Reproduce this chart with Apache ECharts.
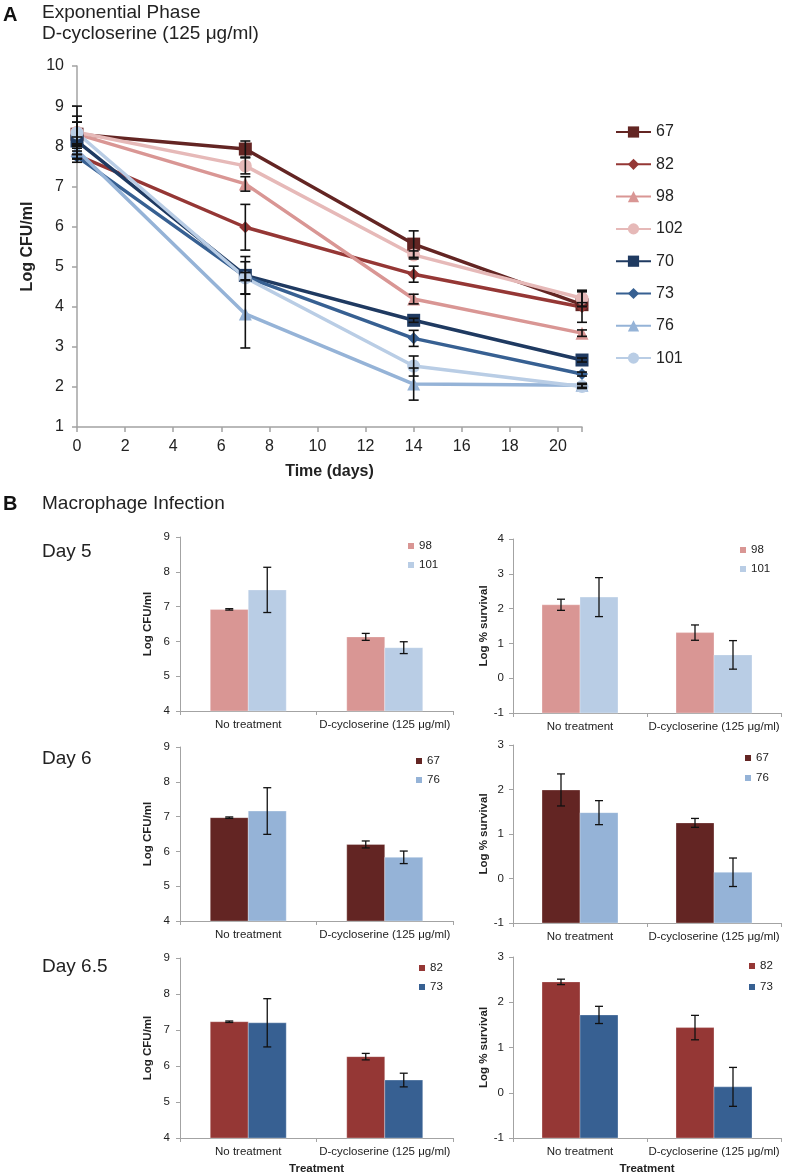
<!DOCTYPE html>
<html>
<head>
<meta charset="utf-8">
<script src="https://cdn.jsdelivr.net/npm/echarts@6/dist/echarts.min.js"></script>
<style>
  html, body { margin: 0; background: #fff; }
  #chart { width: 787px; height: 1176px; }
</style>
</head>
<body>
<div id="chart"></div>
<script>
const FONT = '"Liberation Sans", Arial, Helvetica, sans-serif'

// Panel A: exponential phase, log CFU/ml over time
const days = [0, 7, 14, 21]
const strains = ['67', '82', '98', '102', '70', '73', '76', '101']
const cfu67 = [8.3, 7.93, 5.56, 4.05]
const cfu82 = [7.78, 5.98, 4.81, 3.99]
const cfu98 = [8.3, 7.06, 4.19, 3.34]
const cfu102 = [8.35, 7.51, 5.29, 4.21]
const cfu70 = [8.13, 4.78, 3.66, 2.67]
const cfu73 = [7.74, 4.75, 3.21, 2.32]
const cfu76 = [7.9, 3.82, 2.07, 2.04]
const cfu101 = [8.33, 4.72, 2.52, 2.01]
const err67 = [0.7, 0.2, 0.33, 0.05]
const err82 = [0.1, 0.57, 0.2, 0.38]
const err98 = [0.3, 0.18, 0.12, 0.08]
const err102 = [0.4, 0.2, 0.1, 0.2]
const err70 = [0.1, 0.47, 0.05, 0.05]
const err73 = [0.05, 0.1, 0.2, 0.05]
const err76 = [0.1, 0.85, 0.4, 0.05]
const err101 = [0.27, 0.4, 0.25, 0.05]

// Panel B: macrophage infection
const treatments = ['No treatment', 'D-cycloserine (125 μg/ml)']
const d5Cfu98 = [6.92, 6.13]
const d5Cfu98Err = [0.02, 0.1]
const d5Cfu101 = [7.48, 5.82]
const d5Cfu101Err = [0.65, 0.17]
const d5Surv98 = [2.11, 1.31]
const d5Surv98Err = [0.16, 0.22]
const d5Surv101 = [2.33, 0.67]
const d5Surv101Err = [0.56, 0.41]
const d6Cfu67 = [6.97, 6.2]
const d6Cfu67Err = [0.02, 0.1]
const d6Cfu76 = [7.16, 5.83]
const d6Cfu76Err = [0.67, 0.18]
const d6Surv67 = [1.99, 1.25]
const d6Surv67Err = [0.36, 0.1]
const d6Surv76 = [1.48, 0.14]
const d6Surv76Err = [0.27, 0.32]
const d65Cfu82 = [7.23, 6.26]
const d65Cfu82Err = [0.02, 0.09]
const d65Cfu73 = [7.2, 5.61]
const d65Cfu73Err = [0.67, 0.19]
const d65Surv82 = [2.45, 1.44]
const d65Surv82Err = [0.06, 0.27]
const d65Surv73 = [1.72, 0.13]
const d65Surv73Err = [0.19, 0.43]

const lineValues = { '67': cfu67, '82': cfu82, '98': cfu98, '102': cfu102, '70': cfu70, '73': cfu73, '76': cfu76, '101': cfu101 }
const lineErrors = { '67': err67, '82': err82, '98': err98, '102': err102, '70': err70, '73': err73, '76': err76, '101': err101 }

const strainColor = {
  '67': '#632523',
  '82': '#953735',
  '98': '#D99694',
  '102': '#E6B9B8',
  '70': '#1F3A61',
  '73': '#376092',
  '76': '#95B3D7',
  '101': '#B9CDE5',
}
const strainSymbol = {
  '67': ['rect', 13],
  '82': ['diamond', 12],
  '98': ['triangle', 13],
  '102': ['circle', 13],
  '70': ['rect', 13],
  '73': ['diamond', 12],
  '76': ['triangle', 13],
  '101': ['circle', 13],
}

const AXIS_GREY = '#A3A3A3'
const BAR_WIDTH = 38

function errorLines(cx, hi, lo, cap, width) {
  const half = cap / 2
  const style = { stroke: '#111', lineWidth: width }
  return [
    { type: 'line', shape: { x1: cx, y1: hi, x2: cx, y2: lo }, style },
    { type: 'line', shape: { x1: cx - half, y1: hi, x2: cx + half, y2: hi }, style },
    { type: 'line', shape: { x1: cx - half, y1: lo, x2: cx + half, y2: lo }, style },
  ]
}

// error bar around [x, value, err]
function errorBarRender(params, api) {
  const x = api.value(0)
  const hi = api.coord([x, api.value(1) + api.value(2)])
  const lo = api.coord([x, api.value(1) - api.value(2)])
  return { type: 'group', children: errorLines(hi[0], hi[1], lo[1], 10, 1.6) }
}

// bar rising from the axis minimum (Excel style), with its error bar
function barRender(offset, axisMin) {
  return function (params, api) {
    const i = api.value(0)
    const v = api.value(1)
    const e = api.value(2)
    const top = api.coord([i, v])
    const base = api.coord([i, axisMin])
    const hi = api.coord([i, v + e])
    const lo = api.coord([i, v - e])
    const cx = top[0] + offset
    return {
      type: 'group',
      children: [
        {
          type: 'rect',
          shape: { x: cx - BAR_WIDTH / 2, y: top[1], width: BAR_WIDTH, height: base[1] - top[1] },
          style: { fill: api.visual('color'), stroke: 'rgba(255,255,255,0.6)', lineWidth: 0.5 },
        },
      ].concat(errorLines(cx, hi[1], lo[1], 8, 1.3)),
    }
  }
}

const panels = [
  { left: 180, top: 537, width: 273, height: 174, min: 4, max: 9, yName: 'Log CFU/ml', nameGap: 26, labelMargin: 10,
    names: ['98', '101'], values: [d5Cfu98, d5Cfu101], errs: [d5Cfu98Err, d5Cfu101Err], legend: [403, 534, 5] },
  { left: 513, top: 539, width: 268, height: 174, min: -1, max: 4, yName: 'Log % survival', nameGap: 17, labelMargin: 9,
    names: ['98', '101'], values: [d5Surv98, d5Surv101], errs: [d5Surv98Err, d5Surv101Err], legend: [735, 538, 5] },
  { left: 180, top: 747, width: 273, height: 174, min: 4, max: 9, yName: 'Log CFU/ml', nameGap: 26, labelMargin: 10,
    names: ['67', '76'], values: [d6Cfu67, d6Cfu76], errs: [d6Cfu67Err, d6Cfu76Err], legend: [411, 749, 5] },
  { left: 513, top: 745, width: 268, height: 178, min: -1, max: 3, yName: 'Log % survival', nameGap: 17, labelMargin: 9,
    names: ['67', '76'], values: [d6Surv67, d6Surv76], errs: [d6Surv67Err, d6Surv76Err], legend: [740, 746, 6] },
  { left: 180, top: 958, width: 273, height: 180, min: 4, max: 9, yName: 'Log CFU/ml', nameGap: 26, labelMargin: 10, treatment: true,
    names: ['82', '73'], values: [d65Cfu82, d65Cfu73], errs: [d65Cfu82Err, d65Cfu73Err], legend: [414, 956, 5] },
  { left: 513, top: 957, width: 268, height: 181, min: -1, max: 3, yName: 'Log % survival', nameGap: 17, labelMargin: 9, treatment: true,
    names: ['82', '73'], values: [d65Surv82, d65Surv73], errs: [d65Surv82Err, d65Surv73Err], legend: [744, 954, 7] },
]

const option = {
  backgroundColor: '#fff',
  animation: false,
  textStyle: { fontFamily: FONT },
  title: [
    { text: 'A', left: 3, top: 5, padding: 0, textStyle: { fontFamily: FONT, fontSize: 20, fontWeight: 'bold', color: '#111' } },
    { text: 'Exponential Phase\nD-cycloserine (125 μg/ml)', left: 42, top: 2, padding: 0,
      textStyle: { fontFamily: FONT, fontSize: 19, fontWeight: 'normal', lineHeight: 21, color: '#222' } },
    { text: 'B', left: 3, top: 494, padding: 0, textStyle: { fontFamily: FONT, fontSize: 20, fontWeight: 'bold', color: '#111' } },
    { text: 'Macrophage Infection', left: 42, top: 494, padding: 0, textStyle: { fontFamily: FONT, fontSize: 19, fontWeight: 'normal', color: '#222' } },
    { text: 'Day 5', left: 42, top: 542, padding: 0, textStyle: { fontFamily: FONT, fontSize: 19, fontWeight: 'normal', color: '#222' } },
    { text: 'Day 6', left: 42, top: 749, padding: 0, textStyle: { fontFamily: FONT, fontSize: 19, fontWeight: 'normal', color: '#222' } },
    { text: 'Day 6.5', left: 42, top: 957, padding: 0, textStyle: { fontFamily: FONT, fontSize: 19, fontWeight: 'normal', color: '#222' } },
  ],
  legend: [
    {
      data: strains,
      orient: 'vertical',
      left: 610,
      top: 119,
      itemWidth: 35,
      itemHeight: 14,
      itemGap: 16.3,
      selectedMode: false,
      textStyle: { fontFamily: FONT, fontSize: 16, lineHeight: 16, color: '#222' },
    },
  ],
  grid: [{ left: 77, top: 66, width: 505, height: 361, outerBoundsMode: 'none' }],
  xAxis: [
    {
      gridIndex: 0,
      type: 'value',
      min: 0,
      max: 21,
      interval: 2,
      name: 'Time (days)',
      nameLocation: 'middle',
      nameGap: 37,
      nameTextStyle: { fontFamily: FONT, fontSize: 16, fontWeight: 'bold', color: '#222' },
      axisLine: { show: true, onZero: false, lineStyle: { color: AXIS_GREY, width: 1.5 } },
      axisTick: { show: true, length: 5, lineStyle: { color: AXIS_GREY, width: 1.5 } },
      axisLabel: { fontSize: 16, color: '#222', margin: 12, formatter: (v) => (v % 2 === 0 ? v : '') },
      splitLine: { show: false },
    },
  ],
  yAxis: [
    {
      gridIndex: 0,
      type: 'value',
      min: 1,
      max: 10,
      interval: 1,
      name: 'Log CFU/ml',
      nameLocation: 'middle',
      nameGap: 31,
      nameTextStyle: { fontFamily: FONT, fontSize: 16, fontWeight: 'bold', color: '#222' },
      axisLine: { show: true, onZero: false, lineStyle: { color: AXIS_GREY, width: 1.5 } },
      axisTick: { show: true, length: 5, lineStyle: { color: AXIS_GREY, width: 1.5 } },
      axisLabel: { fontSize: 16, color: '#222', margin: 13 },
      splitLine: { show: false },
    },
  ],
  series: [],
}

// lines for panel A
strains.forEach((s) => {
  option.series.push({
    name: s,
    type: 'line',
    xAxisIndex: 0,
    yAxisIndex: 0,
    data: days.map((d, i) => [d, lineValues[s][i]]),
    symbol: strainSymbol[s][0],
    symbolSize: strainSymbol[s][1],
    lineStyle: { width: 3.5, color: strainColor[s] },
    itemStyle: { color: strainColor[s] },
    z: 2,
  })
})

const lineErrData = []
strains.forEach((s) => {
  days.forEach((d, i) => {
    lineErrData.push([d, lineValues[s][i], lineErrors[s][i]])
  })
})
option.series.push({
  type: 'custom',
  xAxisIndex: 0,
  yAxisIndex: 0,
  data: lineErrData,
  renderItem: errorBarRender,
  silent: true,
  z: 3,
})

// bar panels for B
panels.forEach((p, k) => {
  const idx = k + 1
  option.grid.push({ left: p.left, top: p.top, width: p.width, height: p.height, outerBoundsMode: 'none' })
  option.xAxis.push({
    gridIndex: idx,
    type: 'category',
    data: treatments,
    name: p.treatment ? 'Treatment' : '',
    nameLocation: 'middle',
    nameGap: 25,
    nameTextStyle: { fontFamily: FONT, fontSize: 11.5, fontWeight: 'bold', color: '#222' },
    axisLine: { show: true, onZero: false, lineStyle: { color: AXIS_GREY } },
    axisTick: { show: true, length: 4, lineStyle: { color: AXIS_GREY } },
    axisLabel: { fontSize: 11.5, color: '#222', margin: 8, interval: 0 },
  })
  option.yAxis.push({
    gridIndex: idx,
    type: 'value',
    min: p.min,
    max: p.max,
    interval: 1,
    name: p.yName,
    nameLocation: 'middle',
    nameGap: p.nameGap,
    nameTextStyle: { fontFamily: FONT, fontSize: 11.5, fontWeight: 'bold', color: '#222' },
    axisLine: { show: true, onZero: false, lineStyle: { color: AXIS_GREY } },
    axisTick: { show: true, length: 4, lineStyle: { color: AXIS_GREY } },
    axisLabel: { fontSize: 11.5, color: '#222', margin: p.labelMargin },
    splitLine: { show: false },
  })
  p.names.forEach((name, j) => {
    option.series.push({
      name,
      type: 'custom',
      xAxisIndex: idx,
      yAxisIndex: idx,
      data: p.values[j].map((v, i) => [i, v, p.errs[j][i]]),
      renderItem: barRender(j === 0 ? -BAR_WIDTH / 2 : BAR_WIDTH / 2, p.min),
      itemStyle: { color: strainColor[name] },
      silent: true,
      z: 2,
    })
  })
  option.legend.push({
    data: p.names,
    orient: 'vertical',
    left: p.legend[0],
    top: p.legend[1],
    itemGap: p.legend[2],
    icon: 'rect',
    itemWidth: 6,
    itemHeight: 6,
    selectedMode: false,
    textStyle: { fontFamily: FONT, fontSize: 11.5, lineHeight: 14, color: '#222' },
  })
})

const myChart = echarts.init(document.getElementById('chart'), null, { renderer: 'canvas' })
myChart.setOption(option)
</script>
</body>
</html>
